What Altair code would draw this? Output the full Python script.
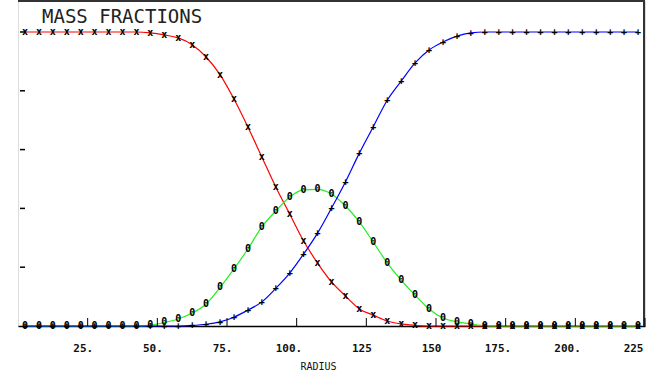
import altair as alt
import pandas as pd

# Radius of each cell centre (2.5, 7.5, ..., 222.5)
radius = [2.5 + 5 * k for k in range(45)]

# Mass fraction of each species at each cell centre
frac_red = [1.0, 1.0, 1.0, 1.0, 1.0, 1.0, 1.0, 1.0, 1.0, 0.997,
            0.99, 0.98, 0.957, 0.915, 0.855, 0.772, 0.677, 0.575, 0.473, 0.381,
            0.289, 0.214, 0.150, 0.102, 0.058, 0.037, 0.017, 0.007, 0.002, 0.0,
            0.0, 0.0, 0.0, 0.0, 0.0, 0.0, 0.0, 0.0, 0.0, 0.0,
            0.0, 0.0, 0.0, 0.0, 0.0]
frac_green = [0.0, 0.0, 0.0, 0.0, 0.0, 0.0, 0.0, 0.0, 0.0, 0.003,
              0.012, 0.024, 0.044, 0.075, 0.131, 0.194, 0.262, 0.337, 0.391, 0.439,
              0.463, 0.465, 0.449, 0.408, 0.354, 0.285, 0.215, 0.156, 0.105, 0.058,
              0.027, 0.014, 0.007, 0.001, 0.0, 0.0, 0.0, 0.0, 0.0, 0.0,
              0.0, 0.0, 0.0, 0.0, 0.0]
frac_blue = [0.0, 0.0, 0.0, 0.0, 0.0, 0.0, 0.0, 0.0, 0.0, 0.0,
             0.0, 0.0, 0.002, 0.006, 0.014, 0.030, 0.054, 0.082, 0.128, 0.180,
             0.245, 0.316, 0.401, 0.490, 0.588, 0.678, 0.768, 0.833, 0.895, 0.939,
             0.966, 0.986, 0.997, 1.0, 1.0, 1.0, 1.0, 1.0, 1.0, 1.0,
             1.0, 1.0, 1.0, 1.0, 1.0]

series_names = ["red", "green", "blue"]
series_colors = ["#ff0000", "#1ff01f", "#0000ff"]
series_glyphs = ["x", "0", "+"]

x_ticks = [25, 50, 75, 100, 125, 150, 175, 200, 225]
x_tick_labels = ["25.", "50.", "75.", "100.", "125", "150", "175.", "200.", "225"]
y_ticks = [0.2, 0.4, 0.6, 0.8, 1.0]

W, H = 627, 325
X_DOM = [0, 225]
Y_DOM = [0, 1.1054]

rows = []
for name, glyph, vals in zip(series_names, series_glyphs, [frac_red, frac_green, frac_blue]):
    for r, v in zip(radius, vals):
        rows.append({"radius": r, "fraction": v, "species": name, "glyph": glyph})
df = pd.DataFrame(rows)

xs = alt.Scale(domain=X_DOM, nice=False, zero=False)
ys = alt.Scale(domain=Y_DOM, nice=False)

label_map = "{" + ", ".join(f"'{v}': '{l}'" for v, l in zip(x_ticks, x_tick_labels)) + "}"

x_enc = alt.X(
    "radius:Q", scale=xs,
    axis=alt.Axis(
        values=x_ticks, labelExpr=f"{label_map}[datum.value + '']",
        title="RADIUS", titleFont="DejaVu Sans Mono", titleFontSize=10,
        titleFontWeight="normal", titleColor="#111", titlePadding=8, titleX=300,
        labelFont="DejaVu Sans Mono", labelFontSize=11, labelFontWeight="bold",
        labelColor="#111", labelAlign="right",
        labelOffset={"condition": {"test": "datum.value == 225", "value": -2}, "value": 5},
        labelPadding=16,
        labelOverlap=False, labelBound=False, labelFlush=False,
        ticks=False, grid=False, domainColor="#000", domainWidth=1.5,
    ),
)
y_enc = alt.Y("fraction:Q", scale=ys, axis=None)

lines = alt.Chart(df).mark_line(strokeWidth=1.2, interpolate="monotone").encode(
    x=x_enc, y=y_enc,
    color=alt.Color("species:N", scale=alt.Scale(domain=series_names, range=series_colors), legend=None),
    detail="species:N",
)

markers = alt.Chart(df).mark_text(
    font="DejaVu Sans Mono", fontSize=10, fontWeight="bold", color="#000", baseline="middle"
).encode(
    x=alt.X("radius:Q", scale=xs), y=alt.Y("fraction:Q", scale=ys), text="glyph:N"
)

xtick_df = pd.DataFrame({"radius": x_ticks})
xticks = alt.Chart(xtick_df).mark_rule(color="#000", strokeWidth=1).encode(
    x=alt.X("radius:Q", scale=xs), y=alt.value(H), y2=alt.value(H - 8)
)

ytick_df = pd.DataFrame({"fraction": y_ticks})
yticks = alt.Chart(ytick_df).mark_rule(color="#000", strokeWidth=1.5).encode(
    y=alt.Y("fraction:Q", scale=ys), x=alt.value(2), x2=alt.value(7)
)

frame_top = alt.Chart(xtick_df).mark_rule(color="#333", strokeWidth=2).encode(
    x=alt.value(0), x2=alt.value(W), y=alt.value(0)
)
frame_right = alt.Chart(xtick_df).mark_rule(color="#333", strokeWidth=2).encode(
    x=alt.value(W - 1), y=alt.value(-1), y2=alt.value(H)
)

chart = alt.layer(frame_top, frame_right, lines, xticks, yticks, markers).properties(
    width=W, height=H,
    autosize=alt.AutoSizeParams(type="none"),
    padding={"left": 18, "top": 1, "right": 7, "bottom": 50},
    title=alt.TitleParams(
        "MASS FRACTIONS", anchor="start", frame="group", orient="top",
        font="DejaVu Sans Mono", fontSize=19, fontWeight="normal", color="#222",
        dx=24, dy=28, offset=0,
    ),
).configure_view(stroke=None).configure(background="white")

chart.save("out.html", embed_options={"renderer": "svg", "actions": False})
